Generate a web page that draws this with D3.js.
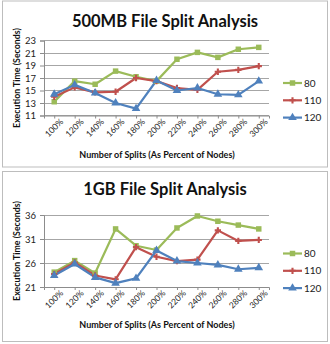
<!DOCTYPE html>
<html><head><meta charset="utf-8">
<script src="https://cdn.jsdelivr.net/npm/d3@7"></script>
<style>body{margin:0;background:#fff}svg{display:block}text{font-family:Lato,"Open Sans",sans-serif}</style>
</head><body><svg id="c" width="330" height="344"></svg>
<script>
const categories = ["100%","120%","140%","160%","180%","200%","220%","240%","260%","280%","300%"];
const seriesNames = ["80","110","120"];
const mb500_80  = [13.2,16.5,16.0,18.1,17.2,16.5,20.0,21.1,20.3,21.6,21.9];
const mb500_110 = [14.0,15.5,14.7,14.8,17.0,16.5,15.4,15.1,18.0,18.3,18.9];
const mb500_120 = [14.4,15.9,14.6,13.0,12.1,16.6,15.0,15.4,14.4,14.3,16.5];
const gb1_80  = [24.1,26.5,23.9,33.1,29.6,28.7,33.3,35.8,34.7,33.9,33.1];
const gb1_110 = [23.7,26.1,23.4,22.6,29.3,27.3,26.4,26.7,32.8,30.6,30.8];
const gb1_120 = [23.4,25.8,23.0,21.8,22.8,28.6,26.4,26.0,25.6,24.7,25.0];
const ticks500 = [11,13,15,17,19,21,23];
const ticks1gb = [21,26,31,36];
const colors = ["#9BBB59","#C0504D","#4F81BD"];

const svg = d3.select("#c");

function panel(top, h, title, series, ticks, plotTop, plotBot, titleY){
  const g = svg.append("g").attr("transform",`translate(0,${top})`);
  g.append("rect").attr("x",2.5).attr("y",0.5).attr("width",325).attr("height",h).attr("fill","#fff").attr("stroke","#BDBDBD");
  g.append("text").attr("x",165).attr("y",titleY).attr("text-anchor","middle")
    .attr("font-size",16.5).attr("font-weight","bold").attr("fill","#111").text(title);
  const x = d3.scalePoint().domain(categories).range([44,269]).padding(0.5);
  const y = d3.scaleLinear().domain([ticks[0],ticks[ticks.length-1]]).range([plotBot,plotTop]);
  g.append("g").selectAll("line").data(ticks).join("line")
    .attr("x1",44).attr("x2",269).attr("y1",d=>y(d)).attr("y2",d=>y(d))
    .attr("stroke","#A6A6A6").attr("stroke-width",1).attr("shape-rendering","crispEdges");
  const ya = g.append("g").attr("transform","translate(44,0)").call(d3.axisLeft(y).tickValues(ticks).tickSize(4).tickPadding(4));
  ya.select(".domain").attr("stroke","#8C8C8C");
  ya.selectAll(".tick line").attr("stroke","#8C8C8C");
  ya.selectAll("text").attr("font-size",9.5).attr("fill","#222");
  const xa = g.append("g").attr("transform",`translate(0,${plotBot})`).call(d3.axisBottom(x).tickSize(3).tickPadding(3));
  xa.select(".domain").attr("stroke","#8C8C8C");
  xa.selectAll(".tick line").attr("stroke","#8C8C8C");
  xa.selectAll("text").attr("font-size",8.5).attr("fill","#222")
    .attr("text-anchor","end").attr("dx","0.2em").attr("dy","0.6em")
    .attr("transform","rotate(-45)");
  g.append("text").attr("transform",`translate(20,${(plotTop+plotBot)/2}) rotate(-90)`)
    .attr("text-anchor","middle").attr("font-size",8.8).attr("font-weight","bold").attr("fill","#111")
    .text("Execution Time (Seconds)");
  g.append("text").attr("x",157).attr("y",157).attr("text-anchor","middle")
    .attr("font-size",9).attr("font-weight","bold").attr("fill","#111")
    .text("Number of Splits (As Percent of Nodes)");
  const line = d3.line().x((d,i)=>x(categories[i])).y(d=>y(d));
  series.forEach((s,k)=>{
    g.append("path").datum(s).attr("d",line).attr("fill","none")
      .attr("stroke",colors[k]).attr("stroke-width",2.2).attr("stroke-linejoin","round");
  });
  const sym = [d3.symbolSquare, d3.symbolCross, d3.symbolTriangle];
  const size = [30, 22, 32];
  series.forEach((s,k)=>{
    g.append("g").selectAll("path").data(s).join("path")
      .attr("transform",(d,i)=>`translate(${x(categories[i])},${y(d)})`)
      .attr("d",d3.symbol().type(sym[k]).size(size[k])).attr("fill",colors[k]);
  });
  const lg = g.append("g");
  seriesNames.forEach((n,k)=>{
    const ly = 82.5 + k*17.3;
    lg.append("line").attr("x1",283).attr("x2",302).attr("y1",ly).attr("y2",ly)
      .attr("stroke",colors[k]).attr("stroke-width",2.2);
    lg.append("path").attr("transform",`translate(292.5,${ly})`)
      .attr("d",d3.symbol().type(sym[k]).size(size[k])).attr("fill",colors[k]);
    lg.append("text").attr("x",304).attr("y",ly).attr("dy","0.35em")
      .attr("font-size",10).attr("fill","#222").text(n);
  });
}
panel(0.5, 166, "500MB File Split Analysis", [mb500_80, mb500_110, mb500_120], ticks500, 40, 115, 26);
panel(171, 170, "1GB File Split Analysis", [gb1_80, gb1_110, gb1_120], ticks1gb, 44, 116, 23.5);
</script></body></html>
